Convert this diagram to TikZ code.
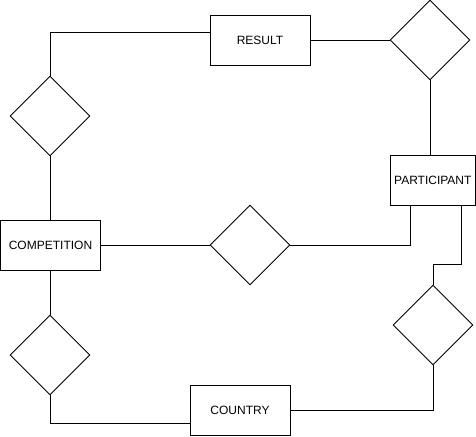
\documentclass[tikz,border=0pt]{standalone}
\usepackage{fontspec}
\setmainfont{Liberation Sans}
\usetikzlibrary{shapes.geometric}

\tikzset{
  entity/.style={draw, line width=0.9pt, minimum height=50pt, inner sep=0pt, font=\fontsize{12}{14}\selectfont},
  relation/.style={draw, diamond, line width=0.9pt, minimum width=80pt, minimum height=80pt, inner sep=0pt},
  link/.style={line width=0.9pt}
}

\begin{document}
\begin{tikzpicture}[x=1pt, y=-1pt]
            \useasboundingbox (0,0) rectangle (476,436);
            \node[entity, minimum width=100pt] (result) at (260,40) {RESULT};
            \node[entity, minimum width=85pt] (participant) at (432.8,180) {PARTICIPANT};
            \node[entity, minimum width=100pt] (competition) at (50.5,245) {COMPETITION};
            \node[entity, minimum width=100pt] (country) at (240,410) {COUNTRY};

            \node[relation] (relA) at (50,116) {};
            \node[relation] (relB) at (430,40) {};
            \node[relation] (relC) at (250,245) {};
            \node[relation] (relD) at (50,355) {};
            \node[relation] (relE) at (433,325) {};

            \draw[link] ([yshift=8pt]result.west) -| (relA.north);
            \draw[link] (relA.south) -- (relA.south |- competition.north);
            \draw[link] (result.east) -- (relB.west);
            \draw[link] (relB.south) -- (relB.south |- participant.north);
            \draw[link] (competition.east) -- (relC.west);
            \draw[link] (relC.east) -| ([xshift=-22.3pt]participant.south);
            \draw[link] ([xshift=29pt]participant.south) |- ([yshift=20pt]relE.north) -- (relE.north);
            \draw[link] (competition.south -| relD.north) -- (relD.north);
            \draw[link] (relD.south) |- ([yshift=-13pt]country.west);
            \draw[link] (relE.south) |- (country.east);
        \end{tikzpicture}
\end{document}
